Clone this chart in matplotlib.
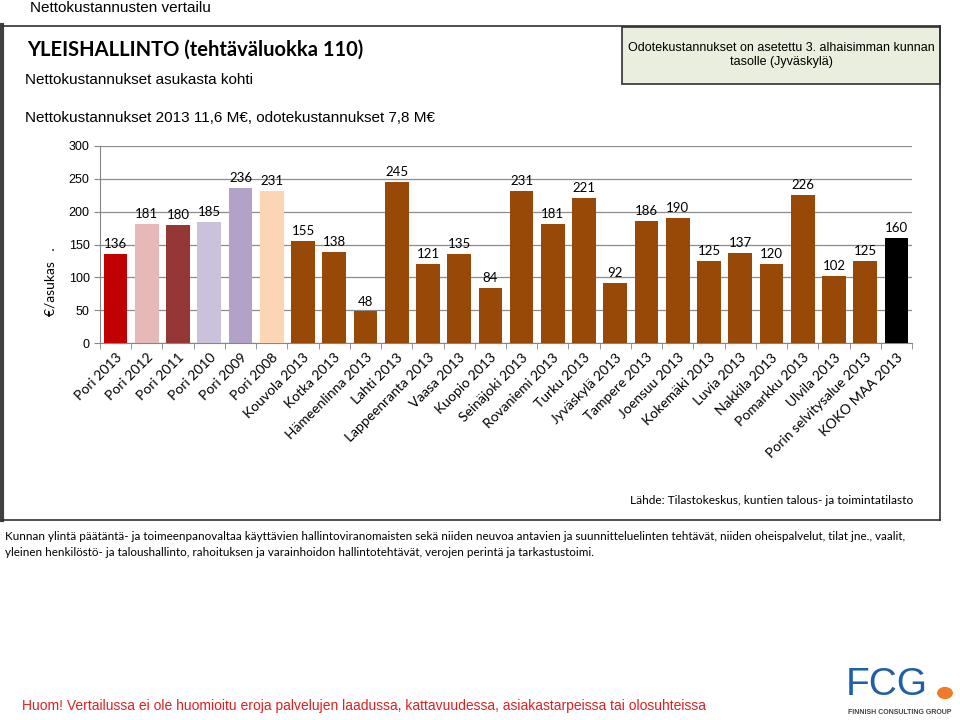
import matplotlib.pyplot as plt
import matplotlib.patches as mpatches
import numpy as np

# data
categories = ["Pori 2013", "Pori 2012", "Pori 2011", "Pori 2010", "Pori 2009", "Pori 2008",
              "Kouvola 2013", "Kotka 2013", "Hämeenlinna 2013", "Lahti 2013",
              "Lappeenranta 2013", "Vaasa 2013", "Kuopio 2013", "Seinäjoki 2013",
              "Rovaniemi 2013", "Turku 2013", "Jyväskylä 2013", "Tampere 2013",
              "Joensuu 2013", "Kokemäki 2013", "Luvia 2013", "Nakkila 2013",
              "Pomarkku 2013", "Ulvila 2013", "Porin selvitysalue 2013", "KOKO MAA 2013"]
values = [136, 181, 180, 185, 236, 231, 155, 138, 48, 245, 121, 135, 84, 231,
          181, 221, 92, 186, 190, 125, 137, 120, 226, 102, 125, 160]
bar_colors = ["#c00000", "#e6b9b8", "#953735", "#ccc1da", "#b3a2c7", "#fcd5b5"] + \
             ["#984807"] * 19 + ["#000000"]

W, H = 960, 720
fig = plt.figure(figsize=(W / 100, H / 100), dpi=100)

def fx(x):
    return x / W

def fy(y):
    return 1 - y / H

# frame around the slide content
fig.add_artist(plt.Line2D([fx(2), fx(2)], [fy(25), fy(520)], color="#404040", lw=3))
fig.add_artist(plt.Line2D([fx(2), fx(940)], [fy(26), fy(26)], color="#303030", lw=1.2))
fig.add_artist(plt.Line2D([fx(940), fx(940)], [fy(26), fy(520)], color="#303030", lw=1.2))
fig.add_artist(plt.Line2D([fx(2), fx(940)], [fy(520), fy(520)], color="#303030", lw=1.2))
fig.add_artist(mpatches.Rectangle((fx(622), fy(84)), fx(940) - fx(622), fy(27) - fy(84),
                                  transform=fig.transFigure, facecolor="#eaeedf",
                                  edgecolor="#303030", lw=1.2))

sans = "Liberation Sans"
cal = "Lato"

fig.text(fx(30), fy(8), "Nettokustannusten vertailu", fontsize=11, family=sans, va="center")
fig.text(fx(27), fy(50), "YLEISHALLINTO (tehtäväluokka 110)", fontsize=14.5, family=cal,
         weight="bold", va="center")
fig.text(fx(25), fy(80), "Nettokustannukset asukasta kohti", fontsize=11, family=sans, va="center")
fig.text(fx(25), fy(118), "Nettokustannukset 2013 11,6 M€, odotekustannukset 7,8 M€",
         fontsize=11, family=sans, va="center")
fig.text(fx(781), fy(55), "Odotekustannukset on asetettu 3. alhaisimman kunnan\ntasolle (Jyväskylä)",
         fontsize=9, family=sans, ha="center", va="center", linespacing=1.25)

ax = fig.add_axes([fx(100), fy(343), fx(912) - fx(100), fy(146) - fy(343)])
x = np.arange(len(categories))
bars = ax.bar(x, values, width=0.76, color=bar_colors, zorder=3)
for xi, v in zip(x, values):
    ax.text(xi, v + 6, str(v), ha="center", va="bottom", fontsize=9.5, family=cal)

ax.set_xlim(-0.5, len(categories) - 0.5)
ax.set_ylim(0, 300)
ax.set_yticks(np.arange(0, 301, 50))
ax.yaxis.grid(True, color="#8c8c8c", lw=0.9, zorder=0)
ax.set_xticks(x)
ax.set_xticklabels(categories, rotation=45, ha="right", rotation_mode="anchor",
                   fontsize=10, family=cal)
ax.set_xticks(np.arange(-0.5, len(categories), 1), minor=True)
ax.tick_params(axis="x", which="major", length=0, pad=6)
ax.tick_params(axis="x", which="minor", length=4, color="#868686")
ax.tick_params(axis="y", length=4, color="#868686", labelsize=9)
for lab in ax.get_yticklabels():
    lab.set_family(sans)
for s in ["top", "right"]:
    ax.spines[s].set_visible(False)
for s in ["left", "bottom"]:
    ax.spines[s].set_color("#868686")
ax.set_ylabel("€/asukas   .", fontsize=10, family=cal, labelpad=12)
ax.yaxis.set_label_coords(-0.054, 0.31)

fig.text(fx(913), fy(500), "Lähde: Tilastokeskus, kuntien talous- ja toimintatilasto",
         fontsize=8.6, family=cal, ha="right", va="center")
fig.text(fx(5), fy(536), "Kunnan ylintä päätäntä- ja toimeenpanovaltaa käyttävien hallintoviranomaisten "
         "sekä niiden neuvoa antavien ja suunnitteluelinten tehtävät, niiden oheispalvelut, tilat jne., vaalit,",
         fontsize=8.4, family=cal, va="center")
fig.text(fx(5), fy(552), "yleinen henkilöstö- ja taloushallinto, rahoituksen ja varainhoidon hallintotehtävät, "
         "verojen perintä ja tarkastustoimi.", fontsize=8.4, family=cal, va="center")

fig.text(fx(22), fy(706), "Huom! Vertailussa ei ole huomioitu eroja palvelujen laadussa, kattavuudessa, "
         "asiakastarpeissa tai olosuhteissa", fontsize=10, family=sans, color="#e02020", va="center")

# FCG logo
fig.text(fx(846), fy(685), "FCG", fontsize=28, family="Liberation Sans", color="#1f5fa8",
         va="center")
fig.add_artist(mpatches.Circle((fx(945), fy(693)), 0.0075, transform=fig.transFigure,
                               color="#f07a2a"))
fig.text(fx(848), fy(713), "FINNISH CONSULTING GROUP", fontsize=5, family=sans,
         weight="bold", color="#444444", va="center")

fig.savefig("out.png", dpi=100)
